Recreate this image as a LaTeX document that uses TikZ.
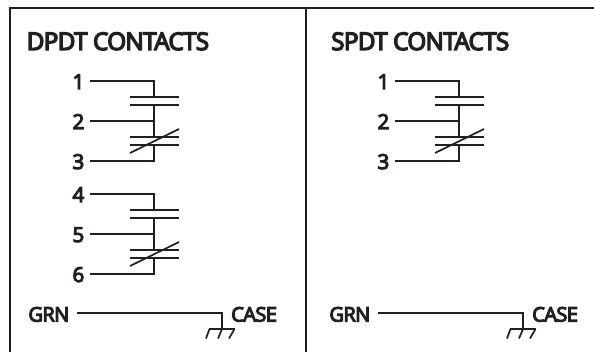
\documentclass[tikz,border=0pt]{standalone}
\usepackage{fontspec}
\setmainfont[LetterSpace=-2.8,FakeBold=5.5]{Open Sans}
\tikzset{
  x=1pt,y=-1pt,
  wire/.style={draw=ink,line width=1.4pt,line cap=butt,line join=miter},
  slant/.style={draw=ink,line width=1.7pt,line cap=butt},
  frameline/.style={draw=ink,line width=2pt},
  title/.style={font=\fontsize{24.3}{26}\selectfont,text=ink,anchor=base west,inner sep=0pt},
  pinlabel/.style={font=\fontsize{20.5}{22}\selectfont,text=ink,anchor=base east,inner xsep=5.5pt,inner ysep=0pt},
  sidelabel/.style={font=\fontsize{20}{22}\selectfont,text=ink,inner ysep=0pt},
  pics/contactset/.style n args={3}{code={
    \node[pinlabel] (-a) at (0,8) {#1};
    \node[pinlabel] (-b) at (0,48) {#2};
    \node[pinlabel] (-c) at (0,88) {#3};
    \coordinate (-a1) at (0,0);
    \coordinate (-b1) at (0,40);
    \coordinate (-c1) at (0,80);
    \coordinate (-top) at (64,0);
    \coordinate (-mid) at (64,40);
    \coordinate (-bot) at (64,80);
    \coordinate (-p1) at (64,16);
    \coordinate (-p2) at (64,24);
    \coordinate (-p3) at (64,56);
    \coordinate (-p4) at (64,64);
    \draw[wire] (-a1) -- (-top) -- (-p1);
    \draw[wire] (-b1) -- (-mid);
    \draw[wire] (-p2) -- (-p3);
    \draw[wire] (-c1) -- (-bot) -- (-p4);
    \draw[wire] (40,16) -- (89,16);
    \draw[wire] (40,24) -- (89,24);
    \draw[wire] (40,56) -- (89,56);
    \draw[wire] (40,64) -- (89,64);
    \draw[slant] (40,72) -- (89,48);
  }},
  pics/groundrun/.style={code={
    \node[sidelabel,anchor=base east,inner xsep=7.5pt] (-grn) at (0,8.5) {GRN};
    \node[sidelabel,anchor=base west,inner xsep=0pt] (-case) at (154,8.5) {CASE};
    \coordinate (-corner) at (145,0);
    \coordinate (-drop) at (145,16);
    \draw[wire] (0,0) -- (-corner) -- (-drop);
    \draw[wire] (132,16) -- (158,16);
    \draw[slant] (132.5,16) -- (129,25.5);
    \draw[slant] (145,16) -- (141,25.5);
    \draw[slant] (157.5,16) -- (152,25.5);
  }}
}
\definecolor{ink}{HTML}{231F20}
\begin{document}
\begin{tikzpicture}
\useasboundingbox[fill=white] (0,0) rectangle (594,352);
\coordinate (tl) at (10,8.5);
\coordinate (tr) at (594,8.5);
\coordinate (bl) at (10,352);
\coordinate (dt) at (306,8.5);
\coordinate (db) at (306,352);
\draw[frameline] (bl) -- (tl) -- (tr);
\draw[frameline] (dt) -- (db);
\node[title] (t1) at (26.5,50) {DPDT CONTACTS};
\node[title] (t2) at (331,50) {SPDT CONTACTS};
\pic (A) at (90,81) {contactset={1}{2}{3}};
\pic (B) at (90,194) {contactset={4}{5}{6}};
\pic (C) at (395,81) {contactset={1}{2}{3}};
\pic (G1) at (77,313) {groundrun};
\pic (G2) at (378,313) {groundrun};
\end{tikzpicture}
\end{document}
